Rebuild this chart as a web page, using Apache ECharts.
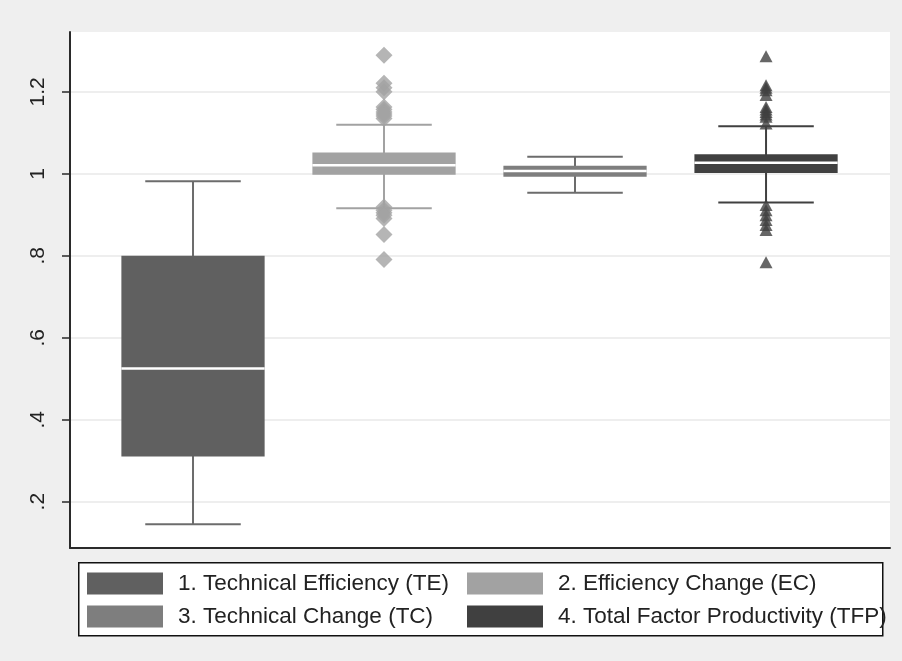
<!DOCTYPE html>
<html><head><meta charset="utf-8">
<script src="https://cdn.jsdelivr.net/npm/echarts@6/dist/echarts.min.js"></script>
<style>html,body{margin:0;padding:0;background:#efefef}#c{width:902px;height:661px}</style>
</head><body><div id="c"></div>
<script>
const categories = ['1. Technical Efficiency (TE)', '2. Efficiency Change (EC)', '3. Technical Change (TC)', '4. Total Factor Productivity (TFP)'];
const positions = [1, 2, 3, 4];
const whiskerLow = [0.145, 0.916, 0.954, 0.930];
const q1 = [0.310, 0.998, 0.993, 1.002];
const median = [0.525, 1.021, 1.007, 1.027];
const q3 = [0.800, 1.052, 1.0195, 1.048];
const whiskerHigh = [0.982, 1.120, 1.0415, 1.116];
const outliersEC = [1.289, 1.221, 1.210, 1.200, 1.163, 1.157, 1.151, 1.146, 1.141, 1.135, 0.919, 0.911, 0.905, 0.899, 0.891, 0.852, 0.791];
const outliersTFP = [1.287, 1.216, 1.210, 1.204, 1.192, 1.163, 1.157, 1.151, 1.145, 1.139, 1.123, 0.924, 0.911, 0.899, 0.887, 0.875, 0.863, 0.784];
const yTicks = [0.2, 0.4, 0.6, 0.8, 1, 1.2];

const boxColors = ['#606060', '#a2a2a2', '#7e7e7e', '#404040'];
const whiskerColors = ['#6c6c6c', '#a2a2a2', '#6c6c6c', '#404040'];
const FONT = '"Liberation Sans", Arial, sans-serif';

function renderItem(params, api) {
  const i = params.seriesIndex;
  const x = api.value(0);
  const pLow = api.coord([x, api.value(1)]);
  const pQ1 = api.coord([x, api.value(2)]);
  const pMed = api.coord([x, api.value(3)]);
  const pQ3 = api.coord([x, api.value(4)]);
  const pHigh = api.coord([x, api.value(5)]);
  const bw = api.size([0.75, 0])[0];
  const cw = api.size([0.5, 0])[0];
  const wc = whiskerColors[i], bc = boxColors[i];
  return {
    type: 'group',
    children: [
      { type: 'line', shape: { x1: pLow[0], y1: pLow[1], x2: pHigh[0], y2: pHigh[1] }, style: { stroke: wc, lineWidth: 2 } },
      { type: 'line', shape: { x1: pLow[0] - cw / 2, y1: pLow[1], x2: pLow[0] + cw / 2, y2: pLow[1] }, style: { stroke: wc, lineWidth: 2 } },
      { type: 'line', shape: { x1: pHigh[0] - cw / 2, y1: pHigh[1], x2: pHigh[0] + cw / 2, y2: pHigh[1] }, style: { stroke: wc, lineWidth: 2 } },
      { type: 'rect', shape: { x: pQ3[0] - bw / 2, y: pQ3[1], width: bw, height: pQ1[1] - pQ3[1] }, style: { fill: bc } },
      { type: 'line', shape: { x1: pMed[0] - bw / 2, y1: pMed[1], x2: pMed[0] + bw / 2, y2: pMed[1] }, style: { stroke: '#ffffff', lineWidth: 2.5 } }
    ]
  };
}

const boxSeries = categories.map((name, i) => ({
  name: name,
  type: 'custom',
  renderItem: renderItem,
  itemStyle: { color: boxColors[i] },
  encode: { x: 0, y: [1, 2, 3, 4, 5] },
  data: [[positions[i], whiskerLow[i], q1[i], median[i], q3[i], whiskerHigh[i]]],
  z: 2
}));

const chart = echarts.init(document.getElementById('c'));
chart.setOption({
  backgroundColor: '#efefef',
  animation: false,
  grid: { left: 70, right: 12, top: 32, bottom: 113, show: true, backgroundColor: '#ffffff', borderWidth: 0 },
  xAxis: {
    type: 'value', min: 0.356, max: 4.649,
    axisLine: { show: true, onZero: false, lineStyle: { color: '#2a2a2a', width: 2 } },
    axisTick: { show: false }, axisLabel: { show: false }, splitLine: { show: false }
  },
  yAxis: {
    type: 'value', min: 0.087, max: 1.346,
    axisLine: { show: true, lineStyle: { color: '#2a2a2a', width: 2 } },
    axisTick: { show: true, length: 8, customValues: yTicks, lineStyle: { color: '#2a2a2a', width: 1.5 } },
    axisLabel: {
      customValues: yTicks, rotate: 90, margin: 21,
      fontFamily: FONT, fontSize: 21, color: '#222',
      formatter: v => (v < 1 ? String(v).replace(/^0/, '') : String(v))
    },
    splitLine: { show: true, customValues: yTicks, lineStyle: { color: '#e9e9e9', width: 1.5 } }
  },
  legend: [
    {
      orient: 'vertical', left: 87, top: 572, padding: 0, itemGap: 10, itemWidth: 76, itemHeight: 22,
      selectedMode: false,
      textStyle: { fontFamily: FONT, fontSize: 22.5, color: '#222', padding: [0, 0, 0, 10] },
      data: [
        { name: categories[0], icon: 'rect', itemStyle: { color: boxColors[0] } },
        { name: categories[2], icon: 'rect', itemStyle: { color: boxColors[2] } }
      ]
    },
    {
      orient: 'vertical', left: 467, top: 572, padding: 0, itemGap: 10, itemWidth: 76, itemHeight: 22,
      selectedMode: false,
      textStyle: { fontFamily: FONT, fontSize: 22.5, color: '#222', padding: [0, 0, 0, 10] },
      data: [
        { name: categories[1], icon: 'rect', itemStyle: { color: boxColors[1] } },
        { name: categories[3], icon: 'rect', itemStyle: { color: boxColors[3] } }
      ]
    }
  ],
  graphic: [
    { type: 'rect', left: 78, top: 562, shape: { width: 804, height: 73 }, style: { fill: '#ffffff', stroke: '#111', lineWidth: 1.5 }, z: -1 }
  ],
  series: boxSeries.concat([
    {
      name: 'EC outliers', type: 'scatter', symbol: 'diamond', symbolSize: 17,
      itemStyle: { color: boxColors[1] }, z: 3,
      data: outliersEC.map(v => [positions[1], v])
    },
    {
      name: 'TFP outliers', type: 'scatter', symbol: 'triangle', symbolSize: [13, 12],
      itemStyle: { color: boxColors[3] }, z: 3,
      data: outliersTFP.map(v => [positions[3], v])
    }
  ])
});
</script>
</body></html>
